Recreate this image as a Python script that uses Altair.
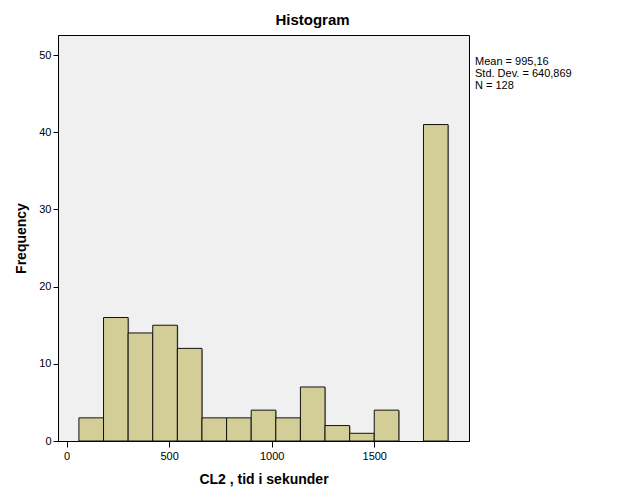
import altair as alt
import pandas as pd

bin_start = [60, 180, 300, 420, 540, 660, 780, 900, 1020, 1140, 1260, 1380, 1500, 1620, 1740]
bin_end = [180, 300, 420, 540, 660, 780, 900, 1020, 1140, 1260, 1380, 1500, 1620, 1740, 1860]
counts = [3, 16, 14, 15, 12, 3, 3, 4, 3, 7, 2, 1, 4, 0, 41]
x_ticks = [0, 500, 1000, 1500]
y_ticks = [0, 10, 20, 30, 40, 50]
stats_lines = ["Mean = 995,16", "Std. Dev. = 640,869", "N = 128"]

df = pd.DataFrame({"start": bin_start, "end": bin_end, "count": counts})
df = df[df["count"] > 0]
stats = pd.DataFrame({"line": stats_lines, "i": list(range(len(stats_lines)))})

FONT = "Liberation Sans"

xscale = alt.Scale(domain=[-42, 1962], nice=False, zero=False)
yscale = alt.Scale(domain=[0, 52.6], nice=False)
xaxis = alt.Axis(values=x_ticks, format="d", title="CL2 , tid i sekunder", grid=False,
                 tickSize=6, labelPadding=3, titlePadding=11)
yaxis = alt.Axis(values=y_ticks, title="Frequency", grid=False,
                 tickSize=5, labelPadding=2, titlePadding=10)

enc = dict(
    x=alt.X("start:Q", scale=xscale, axis=xaxis),
    x2="end:Q",
    y=alt.Y("count:Q", scale=yscale, axis=yaxis),
)

shadow = alt.Chart(df).mark_rect(
    fill="#555555", opacity=0.45, xOffset=1, yOffset=1, x2Offset=1
).encode(**enc)

bars = alt.Chart(df).mark_rect(
    fill="#D3CE97", stroke="#111111", strokeWidth=1
).encode(**enc)

hist = alt.layer(shadow, bars)

text = alt.Chart(stats).mark_text(
    align="left", baseline="middle", font=FONT, fontSize=11, color="#000000"
).encode(
    x=alt.value(417),
    y=alt.Y("i:Q", scale=alt.Scale(domain=[0, 2], range=[27, 51]), axis=None),
    text="line:N",
)

chart = alt.layer(hist, text).resolve_scale(y="independent").properties(
    width=411,
    height=406,
    padding={"left": 58, "top": 35, "right": 157, "bottom": 60},
    autosize=alt.AutoSizeParams(type="none"),
    background="#FFFFFF",
    title=alt.TitleParams("Histogram", font=FONT, fontSize=15, fontWeight="bold",
                          color="#000000", anchor="middle", dx=49, offset=7),
).configure_view(
    fill="#F0F0F0", stroke="#000000", strokeWidth=1
).configure_axis(
    domainColor="#000000", tickColor="#000000", labelColor="#000000",
    titleColor="#000000", labelFont=FONT, titleFont=FONT, labelFontSize=11,
    titleFontSize=14, titleFontWeight="bold",
)

chart.save("out.html", embed_options={"renderer": "svg", "actions": False})
